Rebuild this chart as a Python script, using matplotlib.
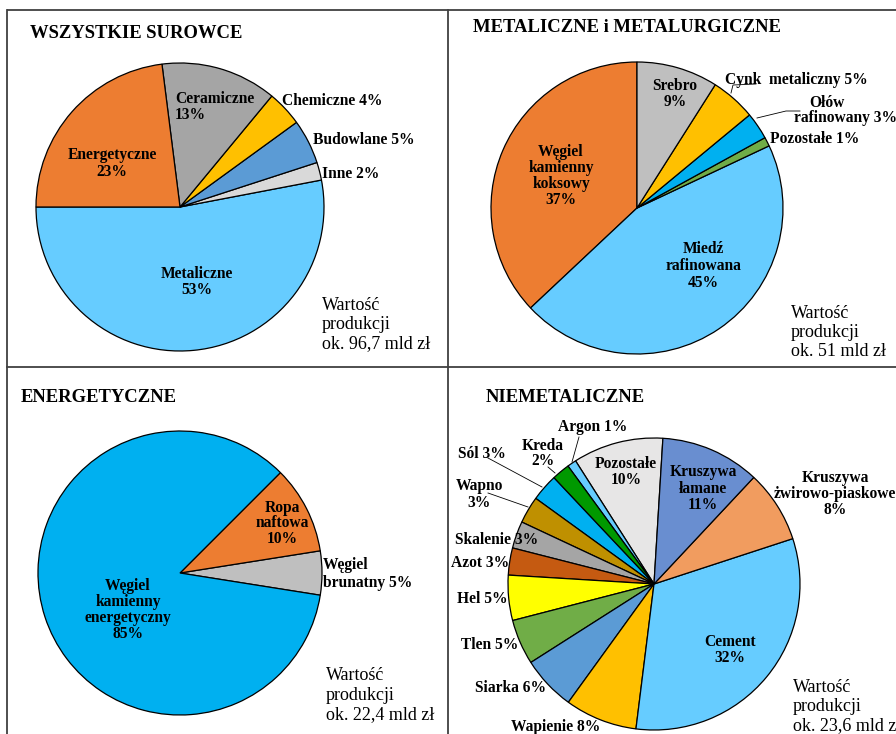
import matplotlib
matplotlib.use("Agg")
import matplotlib.pyplot as plt

W, H = 896, 734
SERIF = ["Liberation Serif", "DejaVu Serif"]

# ---------------- data ----------------
q1_labels = ["Metaliczne", "Inne", "Budowlane", "Chemiczne", "Ceramiczne", "Energetyczne"]
q1_values = [53, 2, 5, 4, 13, 23]
q1_colors = ["#66CCFF", "#D9D9D9", "#5B9BD5", "#FFC000", "#A5A5A5", "#ED7D31"]

q2_labels = ["Węgiel kamienny koksowy", "Miedź rafinowana", "Pozostałe", "Ołów rafinowany",
             "Cynk metaliczny", "Srebro"]
q2_values = [37, 45, 1, 3, 5, 9]
q2_colors = ["#ED7D31", "#66CCFF", "#70AD47", "#00B0F0", "#FFC000", "#BFBFBF"]

q3_labels = ["Węgiel brunatny", "Ropa naftowa", "Węgiel kamienny energetyczny"]
q3_values = [5, 10, 85]
q3_colors = ["#BFBFBF", "#ED7D31", "#00B0F0"]

q4_labels = ["Pozostałe", "Argon", "Kreda", "Sól", "Wapno", "Skalenie", "Azot", "Hel", "Tlen",
             "Siarka", "Wapienie", "Cement", "Kruszywa żwirowo-piaskowe", "Kruszywa łamane"]
q4_values = [10, 1, 2, 3, 3, 3, 3, 5, 5, 6, 8, 32, 8, 11]
q4_colors = ["#E7E6E6", "#66CCFF", "#009900", "#00B0F0", "#BF9000", "#A5A5A5", "#C55A11",
             "#FFFF00", "#70AD47", "#5B9BD5", "#FFC000", "#66CCFF", "#F19C5F", "#698ED0"]

titles = ["WSZYSTKIE SUROWCE", "METALICZNE i METALURGICZNE", "ENERGETYCZNE", "NIEMETALICZNE"]
totals = ["ok. 96,7 mld zł", "ok. 51 mld zł", "ok. 22,4 mld zł", "ok. 23,6 mld zł"]

# ---------------- figure ----------------
fig = plt.figure(figsize=(W / 100, H / 100), dpi=100)
ax = fig.add_axes([0, 0, 1, 1])


def Y(y):
    return H - y


def pie(values, colors, cx, cy, r, start):
    ax.pie(values, colors=colors, center=(cx, Y(cy)), radius=r, startangle=start,
           counterclock=True,
           wedgeprops=dict(edgecolor="black", linewidth=0.9))


pie(q1_values, q1_colors, 180, 207, 144, 180)
pie(q2_values, q2_colors, 637, 208, 146, 90)
pie(q3_values, q3_colors, 180, 573, 142, -9)
pie(q4_values, q4_colors, 654, 584, 146, 86.5)

ax.set_xlim(0, W)
ax.set_ylim(0, H)
ax.set_aspect("auto")
ax.axis("off")

# frame lines
fc = "#404040"
ax.plot([7, W], [Y(10), Y(10)], color=fc, lw=1.3, solid_capstyle="butt")
ax.plot([7, 7], [Y(10), 0], color=fc, lw=1.3)
ax.plot([448, 448], [Y(10), 0], color=fc, lw=1.3)
ax.plot([7, W], [Y(367), Y(367)], color=fc, lw=1.3)

LS = 11.2  # label size
TS = 13.4  # title size
VS = 13.0  # value-of-production size


def lab(x, y, s, ha="left", size=LS, weight="bold"):
    ax.text(x, Y(y), s, ha=ha, va="center", fontsize=size, fontweight=weight,
            family=SERIF, color="black")


def block(x, ys, lines, ha="center", size=LS):
    for yy, s in zip(ys, lines):
        lab(x, yy, s, ha=ha, size=size)


def total(x, y0, text):
    for i, s in enumerate(["Wartość", "produkcji", text]):
        lab(x, y0 + i * 19.5, s, size=VS, weight="normal")


def line(pts):
    ax.plot([p[0] for p in pts], [Y(p[1]) for p in pts], color="black", lw=0.6)


# titles
lab(30, 34, titles[0], size=TS)
lab(473, 28, titles[1], size=TS)
lab(21, 397, titles[2], size=TS)
lab(486, 398, titles[3], size=TS)

# ---- Q1 ----
block(175, [99, 115], [q1_labels[4], f"{q1_values[4]}%"], ha="left")
lab(282, 101, f"{q1_labels[3]} {q1_values[3]}%")
lab(313, 140, f"{q1_labels[2]} {q1_values[2]}%")
lab(322, 174, f"{q1_labels[1]} {q1_values[1]}%")
block(112, [155, 172], [q1_labels[5], f"{q1_values[5]}%"])
block(197, [274, 290], [q1_labels[0], f"{q1_values[0]}%"])
total(322, 305, totals[0])

# ---- Q2 ----
block(675, [86, 102], [q2_labels[5], f"{q2_values[5]}%"])
lab(725, 80, f"Cynk  metaliczny {q2_values[4]}%")
line([(731, 93), (733, 85), (756, 84)])
lab(827, 103, "Ołów", ha="center")
lab(794, 118, f"rafinowany {q2_values[3]}%")
line([(757, 118), (786, 111), (800, 111)])
lab(770, 139, f"{q2_labels[2]} {q2_values[2]}%")
block(561, [152, 168, 184, 200], ["Węgiel", "kamienny", "koksowy", f"{q2_values[0]}%"])
block(703, [249, 266, 283], ["Miedź", "rafinowana", f"{q2_values[1]}%"])
total(791, 313, totals[1])

# ---- Q3 ----
block(282, [508, 523, 539], ["Ropa", "naftowa", f"{q3_values[1]}%"])
block(323, [565, 583], ["Węgiel", f"brunatny {q3_values[0]}%"], ha="left")
block(128, [586, 602, 618, 634], ["Węgiel", "kamienny", "energetyczny", f"{q3_values[2]}%"])
total(326, 676, totals[2])

# ---- Q4 ----
lab(558, 427, f"{q4_labels[1]} {q4_values[1]}%")
line([(572, 462), (579, 437)])
block(543, [446, 461], [q4_labels[2], f"{q4_values[2]}%"])
line([(555, 473), (548, 467)])
lab(458, 454, f"{q4_labels[3]} {q4_values[3]}%")
line([(542, 487), (488, 458)])
block(479, [486, 503], [q4_labels[4], f"{q4_values[4]}%"])
line([(528, 507), (488, 493)])
lab(455, 540, f"{q4_labels[5]} {q4_values[5]}%")
lab(451, 563, f"{q4_labels[6]} {q4_values[6]}%")
lab(457, 599, f"{q4_labels[7]} {q4_values[7]}%")
lab(461, 645, f"{q4_labels[8]} {q4_values[8]}%")
lab(475, 688, f"{q4_labels[9]} {q4_values[9]}%")
lab(511, 727, f"{q4_labels[10]} {q4_values[10]}%")
block(626, [464, 480], [q4_labels[0], f"{q4_values[0]}%"])
block(703, [472, 489, 505], ["Kruszywa", "łamane", f"{q4_values[13]}%"])
block(835, [478, 494, 510], ["Kruszywa", "żwirowo-piaskowe", f"{q4_values[12]}%"])
block(730, [642, 658], [q4_labels[11], f"{q4_values[11]}%"])
total(793, 687, totals[3])

fig.savefig("out.png", dpi=100)
